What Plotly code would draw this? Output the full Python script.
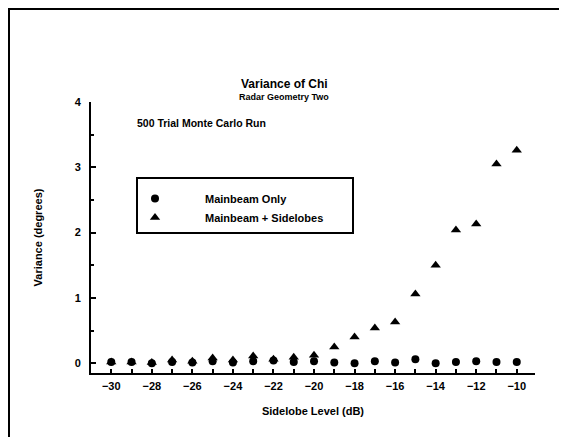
import plotly.graph_objects as go

# ---- data ----
sidelobe_db = [-30, -29, -28, -27, -26, -25, -24, -23, -22, -21, -20,
               -19, -18, -17, -16, -15, -14, -13, -12, -11, -10]
mainbeam_only = [0.02, 0.02, 0.00, 0.02, 0.01, 0.03, 0.01, 0.03, 0.04, 0.02, 0.03,
                 0.01, 0.00, 0.03, 0.01, 0.06, 0.00, 0.02, 0.03, 0.02, 0.02]
mainbeam_sidelobes = [0.02, 0.02, 0.01, 0.05, 0.03, 0.08, 0.05, 0.11, 0.06, 0.09, 0.12,
                      0.25, 0.40, 0.54, 0.63, 1.06, 1.50, 2.04, 2.13, 3.05, 3.26]
x_tick_vals = [-30, -28, -26, -24, -22, -20, -18, -16, -14, -12, -10]
y_tick_vals = [0, 1, 2, 3, 4]

FONT = "Liberation Sans"
OFF = 8  # page body margin
W, H = 567, 437
L, R, T, B = 83, 40, 94, 72
PW, PH = W - L - R, H - T - B


def px(xs):
    return (xs - OFF - L) / PW


def py(ys):
    return (H - B - (ys - OFF)) / PH


fig = go.Figure()
fig.add_trace(go.Scatter(
    x=sidelobe_db, y=mainbeam_sidelobes, mode="markers", name="Mainbeam + Sidelobes",
    marker=dict(symbol="triangle-up", size=9, color="black"), showlegend=False))
fig.add_trace(go.Scatter(
    x=sidelobe_db, y=mainbeam_only, mode="markers", name="Mainbeam Only",
    marker=dict(symbol="circle", size=8, color="black")))
fig.add_trace(go.Scatter(
    x=[None], y=[None], mode="markers", name="Mainbeam + Sidelobes",
    marker=dict(symbol="triangle-up", size=9, color="black")))

fig.update_layout(
    width=W, height=H,
    margin=dict(l=L, r=R, t=T, b=B, pad=0),
    paper_bgcolor="white", plot_bgcolor="white",
    font=dict(family=FONT, color="black", size=10, weight="bold"),
    showlegend=True,
    legend=dict(x=px(105), y=py(184), xanchor="left", yanchor="top",
                bgcolor="rgba(0,0,0,0)", borderwidth=0, itemwidth=90,
                font=dict(family=FONT, size=11, weight="bold", color="black"),
                tracegroupgap=0),
    xaxis=dict(range=[-31, -9.1], tickvals=x_tick_vals, ticks="inside", ticklen=4,
               tickwidth=1.5, tickcolor="black", showline=True, linewidth=2,
               linecolor="black", showgrid=False, zeroline=False,
               ticklabelstandoff=2,
               tickfont=dict(family=FONT, size=11, weight="bold"),
               minor=dict(dtick=1, ticks="inside", ticklen=4, tickwidth=1.5,
                          tickcolor="black", showgrid=False),
               title=dict(text="Sidelobe Level (dB)", standoff=16,
                          font=dict(family=FONT, size=11, weight="bold"))),
    yaxis=dict(range=[-0.15, 4], tickvals=y_tick_vals, ticks="inside", ticklen=5,
               tickwidth=1.5, tickcolor="black", showline=True, linewidth=2,
               linecolor="black", showgrid=False, zeroline=False,
               ticklabelstandoff=6,
               tickfont=dict(family=FONT, size=11, weight="bold"),
               minor=dict(dtick=0.5, ticks="inside", ticklen=3, tickwidth=1.5,
                          tickcolor="black", showgrid=False),
               title=dict(text="Variance (degrees)", standoff=30,
                          font=dict(family=FONT, size=11, weight="bold"))),
    annotations=[
        dict(text="Variance of Chi", x=px(284), y=py(84), xref="paper", yref="paper",
             showarrow=False, xanchor="center", yanchor="middle",
             font=dict(family=FONT, size=12, weight="bold")),
        dict(text="Radar Geometry Two", x=px(284), y=py(97), xref="paper", yref="paper",
             showarrow=False, xanchor="center", yanchor="middle",
             font=dict(family=FONT, size=9, weight="bold")),
        dict(text="500 Trial Monte Carlo Run", x=px(135), y=py(123), xref="paper",
             yref="paper", showarrow=False, xanchor="left", yanchor="middle",
             font=dict(family=FONT, size=10.5, weight="bold")),
    ],
    shapes=[
        dict(type="rect", xref="paper", yref="paper", x0=px(137), x1=px(353),
             y0=py(233), y1=py(178), line=dict(color="black", width=2)),
        dict(type="line", xref="paper", yref="paper", x0=px(9), x1=px(9),
             y0=py(9), y1=py(450), line=dict(color="black", width=2)),
        dict(type="line", xref="paper", yref="paper", x0=px(8), x1=px(580),
             y0=py(9), y1=py(9), line=dict(color="black", width=2)),
    ],
)

fig.write_html("out.html")
